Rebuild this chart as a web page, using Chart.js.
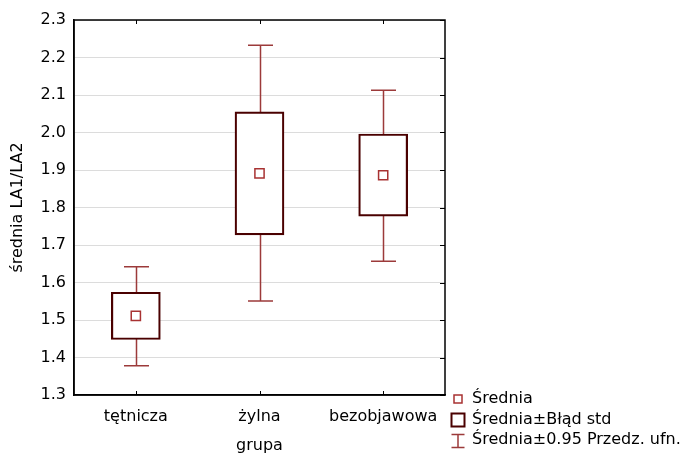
<!DOCTYPE html>
<html lang="pl">
<head>
<meta charset="UTF-8">
<title>średnia LA1/LA2 wg grupy</title>
<script src="https://cdn.jsdelivr.net/npm/chart.js"></script>
<style>
  html, body { margin: 0; padding: 0; background: #fff; }
</style>
</head>
<body>
<canvas id="myChart" width="682" height="455"></canvas>
<script>
// dane
const groups = ['tętnicza', 'żylna', 'bezobjawowa'];
const means  = [1.511, 1.891, 1.886];
const seLow  = [1.448, 1.727, 1.777];
const seHigh = [1.574, 2.055, 1.996];
const ciLow  = [1.378, 1.551, 1.657];
const ciHigh = [1.642, 2.233, 2.113];
const yMin = 1.3, yMax = 2.3, yStep = 0.1;
const legendLabels = ['Średnia', 'Średnia±Błąd std', 'Średnia±0.95 Przedz. ufn.'];

const FONT = 'DejaVu Sans';
const boxColor = '#4a0000';
const whiskColor = '#9c3a3a';
const meanColor = '#a83232';

// wąsy (przedział ufności) rysowane pod pudełkami
const whiskers = {
  id: 'whiskers',
  beforeDatasetsDraw(chart) {
    const { ctx, scales: { x, y } } = chart;
    ctx.save();
    ctx.strokeStyle = whiskColor;
    ctx.lineWidth = 1.5;
    groups.forEach((g, i) => {
      const cx = Math.round(x.getPixelForValue(i)) + 0.5;
      const top = y.getPixelForValue(ciHigh[i]);
      const bot = y.getPixelForValue(ciLow[i]);
      ctx.beginPath();
      ctx.moveTo(cx, top); ctx.lineTo(cx, bot);
      ctx.moveTo(cx - 12.5, top); ctx.lineTo(cx + 12.5, top);
      ctx.moveTo(cx - 12.5, bot); ctx.lineTo(cx + 12.5, bot);
      ctx.stroke();
    });
    ctx.restore();
  }
};

// ramka, znaczniki do wewnątrz, legenda
const frame = {
  id: 'frame',
  afterDraw(chart) {
    const { ctx, chartArea: a, scales: { x, y } } = chart;
    ctx.save();
    ctx.strokeStyle = '#000';
    ctx.lineWidth = 1.5;
    ctx.strokeRect(a.left, a.top, a.right - a.left, a.bottom - a.top);
    ctx.lineWidth = 1;
    ctx.beginPath();
    groups.forEach((g, i) => {
      const px = Math.round(x.getPixelForValue(i)) + 0.5;
      ctx.moveTo(px, a.top); ctx.lineTo(px, a.top + 4);
      ctx.moveTo(px, a.bottom); ctx.lineTo(px, a.bottom - 4);
    });
    y.ticks.forEach(t => {
      const py = Math.round(y.getPixelForValue(t.value)) + 0.5;
      ctx.moveTo(a.right, py); ctx.lineTo(a.right - 5, py);
    });
    ctx.stroke();

    const lx = 458, tx = 472;
    const rows = [399, 420, 440];
    ctx.font = '16px "' + FONT + '"';
    ctx.fillStyle = '#000';
    ctx.textBaseline = 'middle';
    ctx.textAlign = 'left';
    legendLabels.forEach((t, i) => ctx.fillText(t, tx, rows[i]));

    ctx.strokeStyle = meanColor;
    ctx.lineWidth = 1.5;
    ctx.strokeRect(lx - 4, rows[0] - 4, 8, 8);

    ctx.strokeStyle = boxColor;
    ctx.lineWidth = 2;
    ctx.strokeRect(lx - 6.5, rows[1] - 6.5, 13, 13);

    ctx.strokeStyle = whiskColor;
    ctx.lineWidth = 1.5;
    ctx.beginPath();
    ctx.moveTo(lx - 6.5, rows[2] - 5.5); ctx.lineTo(lx + 6.5, rows[2] - 5.5);
    ctx.moveTo(lx, rows[2] - 5.5); ctx.lineTo(lx, rows[2] + 7.5);
    ctx.moveTo(lx - 6.5, rows[2] + 7.5); ctx.lineTo(lx + 6.5, rows[2] + 7.5);
    ctx.stroke();
    ctx.restore();
  }
};

const ctx = document.getElementById('myChart').getContext('2d');
new Chart(ctx, {
  data: {
    labels: groups,
    datasets: [
      {
        type: 'line',
        label: 'Średnia',
        data: means,
        showLine: false,
        pointStyle: 'rect',
        pointRadius: 6.5,
        borderWidth: 1.5,
        borderColor: meanColor,
        backgroundColor: '#fff',
        order: 0
      },
      {
        type: 'bar',
        label: 'Średnia±Błąd std',
        data: groups.map((g, i) => [seLow[i], seHigh[i]]),
        barThickness: 49,
        borderSkipped: false,
        borderWidth: 2.2,
        borderColor: boxColor,
        backgroundColor: '#fff',
        order: 1
      }
    ]
  },
  options: {
    responsive: false,
    animation: false,
    layout: { padding: { top: 20, right: 237, left: 0, bottom: 0 } },
    plugins: { legend: { display: false }, tooltip: { enabled: false } },
    scales: {
      x: {
        type: 'category',
        offset: true,
        grid: { display: false },
        border: { color: '#000', width: 1.5 },
        ticks: { color: '#000', padding: 4, font: { family: FONT, size: 16 } },
        title: { display: true, text: 'grupa', color: '#000', padding: { top: 6, bottom: 0 }, font: { family: FONT, size: 16 } },
        afterFit(s) { s.height = 60; }
      },
      y: {
        min: yMin,
        max: yMax,
        grid: { color: '#dcdcdc', drawTicks: false },
        border: { color: '#000', width: 1.5 },
        ticks: {
          stepSize: yStep,
          color: '#000',
          padding: 8,
          font: { family: FONT, size: 16 },
          callback: v => Number(v).toFixed(1)
        },
        title: { display: true, text: 'średnia LA1/LA2', color: '#000', padding: { top: 8, bottom: 0 }, font: { family: FONT, size: 16 } },
        afterFit(s) { s.width = 74; }
      }
    }
  },
  plugins: [whiskers, frame]
});
</script>
</body>
</html>
